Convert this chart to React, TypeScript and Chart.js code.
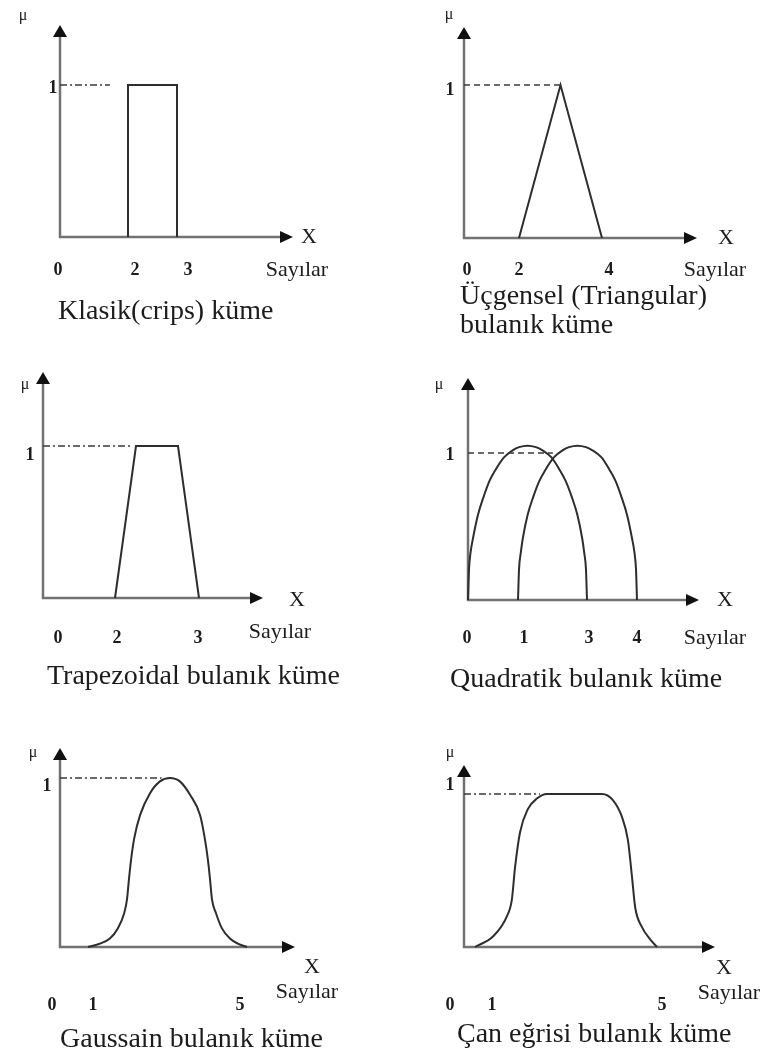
import React, { useEffect, useRef } from 'react';
import { Chart, LinearScale, registerables } from 'chart.js';

Chart.register(...registerables);

// Linear scale whose value→pixel mapping is piecewise, defined by knots [value, decimal]
class KnotScale extends LinearScale {
  static id = 'knot';
  knotList(): number[][] {
    return ((this.options as any).knots || [[0, 0], [1, 1]]) as number[][];
  }
  knotDecimal(value: number): number {
    const k = this.knotList();
    let i = 0;
    while (i < k.length - 2 && value > k[i + 1][0]) i++;
    const [v0, d0] = k[i];
    const [v1, d1] = k[i + 1];
    return d0 + ((value - v0) * (d1 - d0)) / (v1 - v0);
  }
  getPixelForValue(value: number) {
    if (value === null || value === undefined || isNaN(value)) return NaN;
    return this.getPixelForDecimal(this.knotDecimal(value));
  }
  getValueForPixel(pixel: number) {
    const d = this.getDecimalForPixel(pixel);
    const k = this.knotList();
    let i = 0;
    while (i < k.length - 2 && d > k[i + 1][1]) i++;
    const [v0, d0] = k[i];
    const [v1, d1] = k[i + 1];
    return v0 + ((d - d0) * (v1 - v0)) / (d1 - d0);
  }
}
Chart.register(KnotScale);

const W = 764;
const H = 1061;

// ---- Klasik (crisp) küme ----
const crispTicks = [0, 2, 3];
const crispX = [2, 2, 3, 3];
const crispMu = [0, 1, 1, 0];
const crispGuideX = [0, 1.47];

// ---- Üçgensel küme ----
const triTicks = [0, 2, 4];
const triX = [2, 3, 4];
const triMu = [0, 1, 0];
const triGuideX = [0, 3];

// ---- Trapezoidal küme ----
const trapTicks = [0, 2, 3];
const trapX = [2, 2.25, 2.75, 3];
const trapMu = [0, 1, 1, 0];
const trapGuideX = [0, 2.18];

// ---- Quadratik küme (iki eğri) ----
const quadTicks = [0, 1, 3, 4];
const quadAX = [0, 0.02, 0.05, 0.1, 0.2, 0.31, 0.43, 0.54, 0.72, 0.9, 1.03, 1.28, 1.52, 1.7, 1.97, 2.22, 2.38, 2.56, 2.72, 2.86, 2.92, 2.97, 3];
const quadAMu = [0, 0.21, 0.32, 0.42, 0.58, 0.7, 0.81, 0.88, 0.97, 1.02, 1.04, 1.05, 1.04, 1.02, 0.97, 0.88, 0.81, 0.7, 0.58, 0.42, 0.32, 0.21, 0];
const quadBX = [1, 1.03, 1.08, 1.14, 1.28, 1.44, 1.62, 1.78, 2.04, 2.3, 2.48, 2.72, 2.97, 3.1, 3.29, 3.46, 3.57, 3.69, 3.8, 3.9, 3.95, 3.98, 4];
const quadBMu = [0, 0.21, 0.32, 0.42, 0.58, 0.7, 0.81, 0.88, 0.97, 1.02, 1.04, 1.05, 1.04, 1.02, 0.97, 0.88, 0.81, 0.7, 0.58, 0.42, 0.32, 0.21, 0];
const quadGuideX = [0, 2.01];

// ---- Gauss küme ----
const gaussTicks = [0, 1, 5];
const gaussX = [1, 1.3, 1.55, 1.75, 1.91, 1.98, 2.03, 2.08, 2.16, 2.31, 2.56, 2.81, 3.06, 3.31, 3.57, 3.82, 3.94, 4.02, 4.07, 4.12, 4.22, 4.37, 4.57, 4.77, 5];
const gaussMu = [0, 0.02, 0.05, 0.11, 0.2, 0.28, 0.4, 0.51, 0.64, 0.78, 0.91, 0.98, 1, 0.98, 0.9, 0.78, 0.64, 0.51, 0.4, 0.28, 0.2, 0.11, 0.05, 0.02, 0];
const gaussGuideX = [0, 2.85];

// ---- Çan eğrisi küme ----
const bellTicks = [0, 1, 5];
const bellX = [1, 1.4, 1.7, 1.81, 1.88, 1.99, 2.16, 2.36, 2.58, 3.79, 4.03, 4.23, 4.36, 4.45, 4.52, 4.67, 4.85, 5];
const bellMu = [0, 0.07, 0.2, 0.31, 0.52, 0.75, 0.9, 0.97, 1, 1, 0.96, 0.85, 0.7, 0.46, 0.26, 0.13, 0.05, 0];
const bellGuideX = [0, 2.43];

const guideMu = [1, 1];

const DASH_DOT = [7, 3, 2, 3];
const DASHED = [6, 4];

type Series = { x: number[]; y: number[]; smooth: boolean };

type Panel = {
  id: string;
  axisX: number;
  axisY: number;
  oneY: number;
  tipX: number;
  tipY: number;
  knots: number[][]; // [value, page x]
  ticks: number[];
  tickDx: number[];
  tickY: number;
  mu: number[];
  one: number[];
  xLabel: number[];
  unit: number[];
  title: string[];
  titlePos: number[];
  series: Series[];
  guide: number[];
  guideDash: number[];
};

const panels: Panel[] = [
  {
    id: 'klasik', axisX: 60, axisY: 237, oneY: 85, tipX: 293, tipY: 25,
    knots: [[0, 60], [2, 128], [3, 177]],
    ticks: crispTicks, tickDx: [-2, 7, 11], tickY: 270,
    mu: [23, 16], one: [53, 88], xLabel: [309, 237], unit: [297, 270],
    title: ['Klasik(crips) küme'], titlePos: [58, 312],
    series: [{ x: crispX, y: crispMu, smooth: false }],
    guide: crispGuideX, guideDash: DASH_DOT,
  },
  {
    id: 'ucgen', axisX: 464, axisY: 238, oneY: 85, tipX: 697, tipY: 27,
    knots: [[0, 464], [2, 519], [4, 602]],
    ticks: triTicks, tickDx: [3, 0, 7], tickY: 270,
    mu: [449, 15], one: [450, 90], xLabel: [726, 238], unit: [715, 270],
    title: ['Üçgensel (Triangular)', 'bulanık küme'], titlePos: [460, 297],
    series: [{ x: triX, y: triMu, smooth: false }],
    guide: triGuideX, guideDash: DASHED,
  },
  {
    id: 'trapez', axisX: 43, axisY: 598, oneY: 446, tipX: 263, tipY: 372,
    knots: [[0, 43], [2, 115], [3, 199]],
    ticks: trapTicks, tickDx: [15, 2, -1], tickY: 638,
    mu: [25, 385], one: [30, 455], xLabel: [297, 600], unit: [280, 632],
    title: ['Trapezoidal bulanık küme'], titlePos: [47, 677],
    series: [{ x: trapX, y: trapMu, smooth: false }],
    guide: trapGuideX, guideDash: DASH_DOT,
  },
  {
    id: 'quad', axisX: 468, axisY: 600, oneY: 453, tipX: 699, tipY: 378,
    knots: [[0, 468], [1, 518], [3, 587], [4, 637]],
    ticks: quadTicks, tickDx: [-1, 6, 2, 0], tickY: 638,
    mu: [439, 385], one: [450, 455], xLabel: [725, 600], unit: [715, 638],
    title: ['Quadratik bulanık küme'], titlePos: [450, 680],
    series: [
      { x: quadAX, y: quadAMu, smooth: true },
      { x: quadBX, y: quadBMu, smooth: true },
    ],
    guide: quadGuideX, guideDash: DASHED,
  },
  {
    id: 'gauss', axisX: 60, axisY: 947, oneY: 778, tipX: 295, tipY: 748,
    knots: [[0, 60], [1, 88], [5, 247]],
    ticks: gaussTicks, tickDx: [-8, 5, -7], tickY: 1005,
    mu: [33, 753], one: [47, 786], xLabel: [312, 967], unit: [307, 992],
    title: ['Gaussain bulanık küme'], titlePos: [60, 1040],
    series: [{ x: gaussX, y: gaussMu, smooth: true }],
    guide: gaussGuideX, guideDash: DASH_DOT,
  },
  {
    id: 'can', axisX: 464, axisY: 947, oneY: 794, tipX: 715, tipY: 765,
    knots: [[0, 464], [1, 475], [5, 657]],
    ticks: bellTicks, tickDx: [-14, 17, 5], tickY: 1005,
    mu: [450, 753], one: [450, 785], xLabel: [724, 968], unit: [729, 993],
    title: ['Çan eğrisi bulanık küme'], titlePos: [457, 1035],
    series: [{ x: bellX, y: bellMu, smooth: true }],
    guide: bellGuideX, guideDash: DASH_DOT,
  },
];

const AXIS_COLOR = '#727272';
const MARK_COLOR = '#2e2e2e';
const TEXT_COLOR = '#1c1c1c';
const SERIF = '"Liberation Serif", "Times New Roman", serif';

function decorations(p: Panel) {
  return {
    id: 'decor_' + p.id,
    beforeDatasetsDraw(chart: any) {
      const ctx = chart.ctx as CanvasRenderingContext2D;
      const ox = chart.scales.x.getPixelForValue(0);
      const oy = chart.scales.y.getPixelForValue(0);
      ctx.save();
      ctx.strokeStyle = AXIS_COLOR;
      ctx.lineWidth = 2.5;
      ctx.beginPath();
      ctx.moveTo(ox, oy + 1);
      ctx.lineTo(ox, p.tipY + 6);
      ctx.moveTo(ox - 1, oy);
      ctx.lineTo(p.tipX - 6, oy);
      ctx.stroke();
      ctx.restore();
    },
    afterDatasetsDraw(chart: any) {
      const ctx = chart.ctx as CanvasRenderingContext2D;
      const xs = chart.scales.x;
      const ox = xs.getPixelForValue(0);
      const oy = chart.scales.y.getPixelForValue(0);
      ctx.save();
      // arrowheads
      ctx.fillStyle = '#111';
      ctx.beginPath();
      ctx.moveTo(ox, p.tipY);
      ctx.lineTo(ox - 7, p.tipY + 12);
      ctx.lineTo(ox + 7, p.tipY + 12);
      ctx.closePath();
      ctx.fill();
      ctx.beginPath();
      ctx.moveTo(p.tipX, oy);
      ctx.lineTo(p.tipX - 13, oy - 6);
      ctx.lineTo(p.tipX - 13, oy + 6);
      ctx.closePath();
      ctx.fill();

      ctx.fillStyle = TEXT_COLOR;
      ctx.textBaseline = 'middle';
      ctx.textAlign = 'center';
      // x-axis tick labels
      ctx.font = `bold 18px ${SERIF}`;
      p.ticks.forEach((v, i) => {
        ctx.fillText(String(v), xs.getPixelForValue(v) + p.tickDx[i], p.tickY);
      });
      // "1" on the membership axis
      ctx.font = `bold 18px ${SERIF}`;
      ctx.fillText('1', p.one[0], p.one[1]);
      // μ
      ctx.font = `16px ${SERIF}`;
      ctx.fillText('μ', p.mu[0], p.mu[1]);
      // X
      ctx.font = `22px ${SERIF}`;
      ctx.fillText('X', p.xLabel[0], p.xLabel[1]);
      // Sayılar
      ctx.font = `22px ${SERIF}`;
      ctx.fillText('Sayılar', p.unit[0], p.unit[1]);
      // title
      ctx.textAlign = 'left';
      ctx.font = `28px ${SERIF}`;
      p.title.forEach((line, i) => {
        ctx.fillText(line, p.titlePos[0], p.titlePos[1] + i * 29);
      });
      ctx.restore();
    },
  };
}

function PanelChart({ panel }: { panel: Panel }) {
  const ref = useRef<HTMLCanvasElement>(null);
  useEffect(() => {
    const canvas = ref.current;
    if (!canvas) return;
    const p = panel;
    const span = p.tipX - p.axisX;
    const knotDecimals = p.knots.map(([v, px]) => [v, (px - p.axisX) / span]);
    const datasets: any[] = [
      {
        data: p.guide.map((x, i) => ({ x, y: guideMu[i] })),
        borderColor: '#3a3a3a',
        borderWidth: 1.6,
        borderDash: p.guideDash,
        pointRadius: 0,
        tension: 0,
        fill: false,
        clip: false,
      },
      ...p.series.map((s) => ({
        data: s.x.map((x, i) => ({ x, y: s.y[i] })),
        borderColor: MARK_COLOR,
        borderWidth: 2,
        pointRadius: 0,
        fill: false,
        clip: false,
        tension: 0,
        cubicInterpolationMode: s.smooth ? 'monotone' : 'default',
        capBezierPoints: false,
        borderJoinStyle: 'miter',
      })),
    ];
    const chart = new Chart(canvas, {
      type: 'line',
      data: { datasets },
      options: {
        responsive: false,
        animation: false,
        events: [],
        layout: {
          padding: { left: p.axisX, top: p.oneY, right: W - p.tipX, bottom: H - p.axisY },
        },
        plugins: {
          legend: { display: false },
          tooltip: { enabled: false },
          title: { display: false },
        },
        scales: {
          x: {
            type: 'knot' as any,
            min: 0,
            max: p.knots[p.knots.length - 1][0],
            display: false,
            knots: knotDecimals,
          } as any,
          y: { type: 'linear', min: 0, max: 1, display: false },
        },
      },
      plugins: [decorations(p)],
    });
    return () => chart.destroy();
  }, [panel]);
  return (
    <canvas
      ref={ref}
      width={W}
      height={H}
      style={{ position: 'absolute', left: 0, top: 0, width: W, height: H, pointerEvents: 'none' }}
    />
  );
}

export default function App() {
  return (
    <div style={{ position: 'absolute', left: 0, top: 0, width: W, height: H, background: '#fff' }}>
      {panels.map((p) => (
        <PanelChart key={p.id} panel={p} />
      ))}
    </div>
  );
}
